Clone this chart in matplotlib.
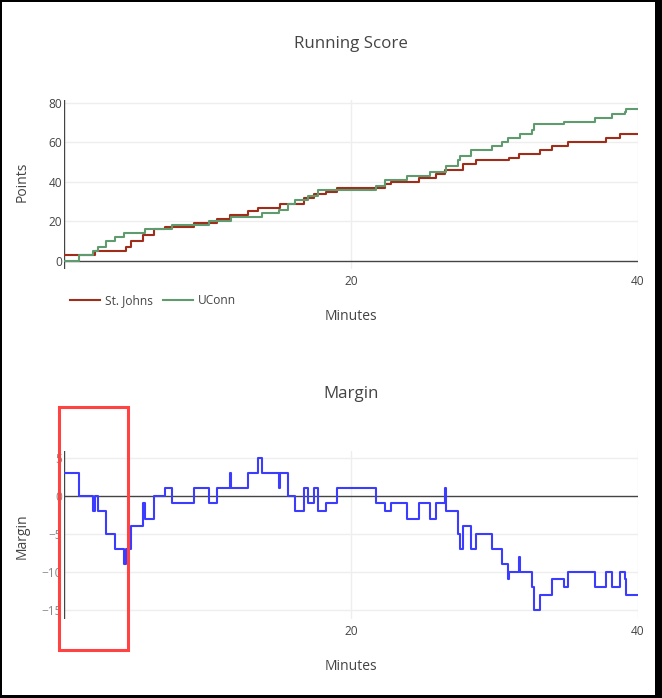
import matplotlib

matplotlib.use("Agg")
import matplotlib.pyplot as plt
import numpy as np
from matplotlib.patches import Rectangle

plt.rcParams["font.family"] = ["Open Sans", "DejaVu Sans"]

# cumulative score after each basket (minutes, points)
sj_times = [0.0, 2.16, 4.35, 4.65, 5.53, 6.27, 7.04, 9.06, 10.64, 11.57, 12.8,
            13.54, 15.05, 16.72, 17.42, 18.26, 19.05, 22.37, 22.77, 24.74,
            25.92, 26.55, 27.83, 28.71, 31.0, 31.7, 33.17, 33.98, 35.14, 37.8,
            38.75]
sj_scores = [3, 5, 7, 10, 13, 16, 17, 19, 21, 23, 25, 27, 29, 32, 34, 35, 37,
             39, 40, 42, 44, 46, 49, 51, 52, 54, 56, 58, 60, 62, 64]

uc_times = [0.0, 1.07, 2.0, 2.39, 2.9, 3.55, 4.18, 5.64, 7.55, 10.08, 11.64,
            13.82, 14.98, 15.63, 16.1, 17.0, 17.7, 21.72, 22.37, 23.88, 25.5,
            26.65, 27.48, 27.6, 28.34, 29.8, 30.5, 30.92, 31.8, 32.6, 32.77,
            34.84, 37.0, 38.17, 39.1, 39.16]
uc_scores = [0, 3, 5, 7, 10, 12, 14, 16, 18, 20, 22, 24, 26, 29, 31, 33, 36,
             38, 41, 43, 45, 48, 51, 53, 56, 58, 60, 62, 64, 66, 69, 70, 72,
             74, 75, 77]

game_end = 40
teams = ["St. Johns", "UConn"]
x_ticks = [20, 40]
score_ticks = [0, 20, 40, 60, 80]
margin_ticks = [-15, -10, -5, 0, 5]

W, H = 662, 698
RED = "#A02D19"
GREEN = "#5F9B6E"
BLUE = "#3C3CFF"
GRID = "#eeeeee"
TXT = "#444444"


def score_at(times, scores, t):
    idx = np.searchsorted(times, t, side="right") - 1
    return np.asarray(scores)[idx]


all_times = np.unique(np.concatenate([sj_times, uc_times, [game_end]]))
margin = score_at(sj_times, sj_scores, all_times) - score_at(uc_times, uc_scores, all_times)


def fx(px):
    return px / W


def fy(py):
    return 1 - py / H


fig = plt.figure(figsize=(W / 100, H / 100), dpi=100)

ax1 = fig.add_axes([fx(64), fy(269.3), fx(638) - fx(64), fy(100) - fy(269.3)])
ax2 = fig.add_axes([fx(64), fy(619), fx(638) - fx(64), fy(451) - fy(619)])

ax1.plot(sj_times + [game_end], sj_scores + [sj_scores[-1]], drawstyle="steps-post",
         color=RED, lw=1.5, label=teams[0], zorder=3)
ax1.plot(uc_times + [game_end], uc_scores + [uc_scores[-1]], drawstyle="steps-post",
         color=GREEN, lw=1.5, label=teams[1], zorder=3)
ax1.set_ylim(-4.2, 81.3)
ax1.set_yticks(score_ticks)

ax2.plot(all_times, margin, drawstyle="steps-post", color=BLUE, lw=1.5, zorder=3)
ax2.set_ylim(-16.2, 5.9)
ax2.set_yticks(margin_ticks)

for ax, lab_col in [(ax1, TXT), (ax2, "#888888")]:
    ax.set_xlim(0, game_end)
    ax.set_xticks(x_ticks)
    for s in ax.spines.values():
        s.set_visible(False)
    ax.tick_params(length=0, labelsize=8.6, colors=TXT)
    ax.tick_params(axis="x", pad=4)
    ax.tick_params(axis="y", pad=1.5, labelcolor=lab_col)
    for v in ax.get_yticks():
        if v != 0:
            ax.axhline(v, color=GRID, lw=1, zorder=0)
    for v in x_ticks:
        ax.axvline(v, color=GRID, lw=1, zorder=0)
    ax.axhline(0, color=TXT, lw=1, zorder=2)
    ax.axvline(0, color=TXT, lw=1, zorder=2)

fig.text(fx(351), fy(44), "Running Score", ha="center", va="center", fontsize=12.2, color=TXT)
fig.text(fx(351), fy(394), "Margin", ha="center", va="center", fontsize=12.2, color=TXT)
fig.text(fx(22), fy(182), "Points", ha="center", va="center", rotation=90, fontsize=10, color=TXT)
fig.text(fx(22), fy(536), "Margin", ha="center", va="center", rotation=90, fontsize=10, color=TXT)
fig.text(fx(351), fy(316), "Minutes", ha="center", va="center", fontsize=10, color=TXT)
fig.text(fx(351), fy(666), "Minutes", ha="center", va="center", fontsize=10, color=TXT)

leg = ax1.legend(loc="center left", bbox_to_anchor=(fx(70), fy(301)),
                 bbox_transform=fig.transFigure, ncol=2, frameon=False,
                 fontsize=8.6, handlelength=2.5, handletextpad=0.42,
                 columnspacing=0.83, borderpad=0, borderaxespad=0)
for t in leg.get_texts():
    t.set_color(TXT)

# highlight box
fig.add_artist(Rectangle((fx(59), fy(650)), fx(128) - fx(59), fy(407) - fy(650),
                         transform=fig.transFigure, fill=False,
                         edgecolor="#FF4343", lw=2.2, zorder=10))

# black frame around the screenshot
for x0, y0, w, h in [(0, 0, 2, H), (0, 0, W, 2), (655, 0, 7, H), (0, 695, W, 3)]:
    fig.add_artist(Rectangle((fx(x0), fy(y0 + h)), fx(w), h / H,
                             transform=fig.transFigure, color="black", lw=0, zorder=11))

fig.savefig("out.png", dpi=100, facecolor="white")
